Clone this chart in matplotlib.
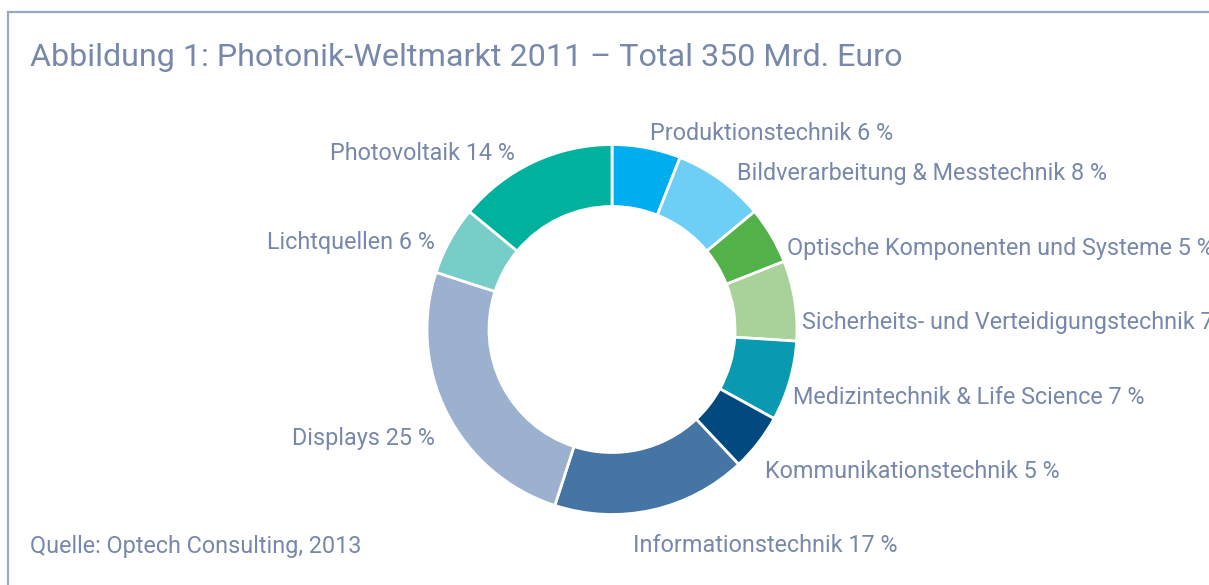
import matplotlib
matplotlib.use("Agg")
import matplotlib.pyplot as plt
from matplotlib.lines import Line2D

# Daten
categories = ["Produktionstechnik", "Bildverarbeitung & Messtechnik",
              "Optische Komponenten und Systeme",
              "Sicherheits- und Verteidigungstechnik",
              "Medizintechnik & Life Science", "Kommunikationstechnik",
              "Informationstechnik", "Displays", "Lichtquellen", "Photovoltaik"]
shares = [6, 8, 5, 7, 7, 5, 17, 25, 6, 14]
colors = ["#00aeef", "#6dcff6", "#52b148", "#a9d29a", "#0999b0",
          "#02497f", "#4475a4", "#9cb0cf", "#78cdc9", "#00b29e"]

# Label-Positionen in Pixel (x, y, Ausrichtung)
label_pos = [(650, 133, "left"), (737, 172, "left"), (787, 247, "left"),
             (802, 321, "left"), (793, 396, "left"), (765, 470, "left"),
             (633, 545, "left"), (435, 438, "right"), (435, 241, "right"),
             (515, 153, "right")]

W, H = 1209, 585
txt_color = "#7788ab"
plt.rcParams['font.family'] = ['Roboto', 'DejaVu Sans']

fig = plt.figure(figsize=(W / 100, H / 100), dpi=100)
fig.patch.set_facecolor("white")

# Donut
cx, cy, r = 612, 329.5, 185
ax = fig.add_axes([(cx - r) / W, (H - cy - r) / H, 2 * r / W, 2 * r / H])
ax.pie(shares, colors=colors, startangle=90, counterclock=False, radius=1,
       wedgeprops=dict(width=0.335, edgecolor="white", linewidth=2))
ax.set_xlim(-1, 1)
ax.set_ylim(-1, 1)
ax.axis("off")

for cat, val, (x, y, ha) in zip(categories, shares, label_pos):
    fig.text(x / W, 1 - (y + 1) / H, f"{cat} {val} %", ha=ha, va="center",
             fontsize=16.8, color=txt_color)

fig.text(30 / W, 1 - 58 / H, "Abbildung 1: Photonik-Weltmarkt 2011 – Total 350 Mrd. Euro",
         ha="left", va="center", fontsize=23.2, color=txt_color)
fig.text(30 / W, 1 - 546 / H, "Quelle: Optech Consulting, 2013",
         ha="left", va="center", fontsize=16.8, color=txt_color)

# Rahmen
border = "#9aa8c4"
fig.add_artist(Line2D([8 / W, 1], [1 - 12 / H, 1 - 12 / H], color=border, lw=1.6,
                      transform=fig.transFigure))
fig.add_artist(Line2D([8 / W, 8 / W], [0, 1 - 12 / H], color=border, lw=1.6,
                      transform=fig.transFigure))

fig.savefig("out.png", dpi=100)
